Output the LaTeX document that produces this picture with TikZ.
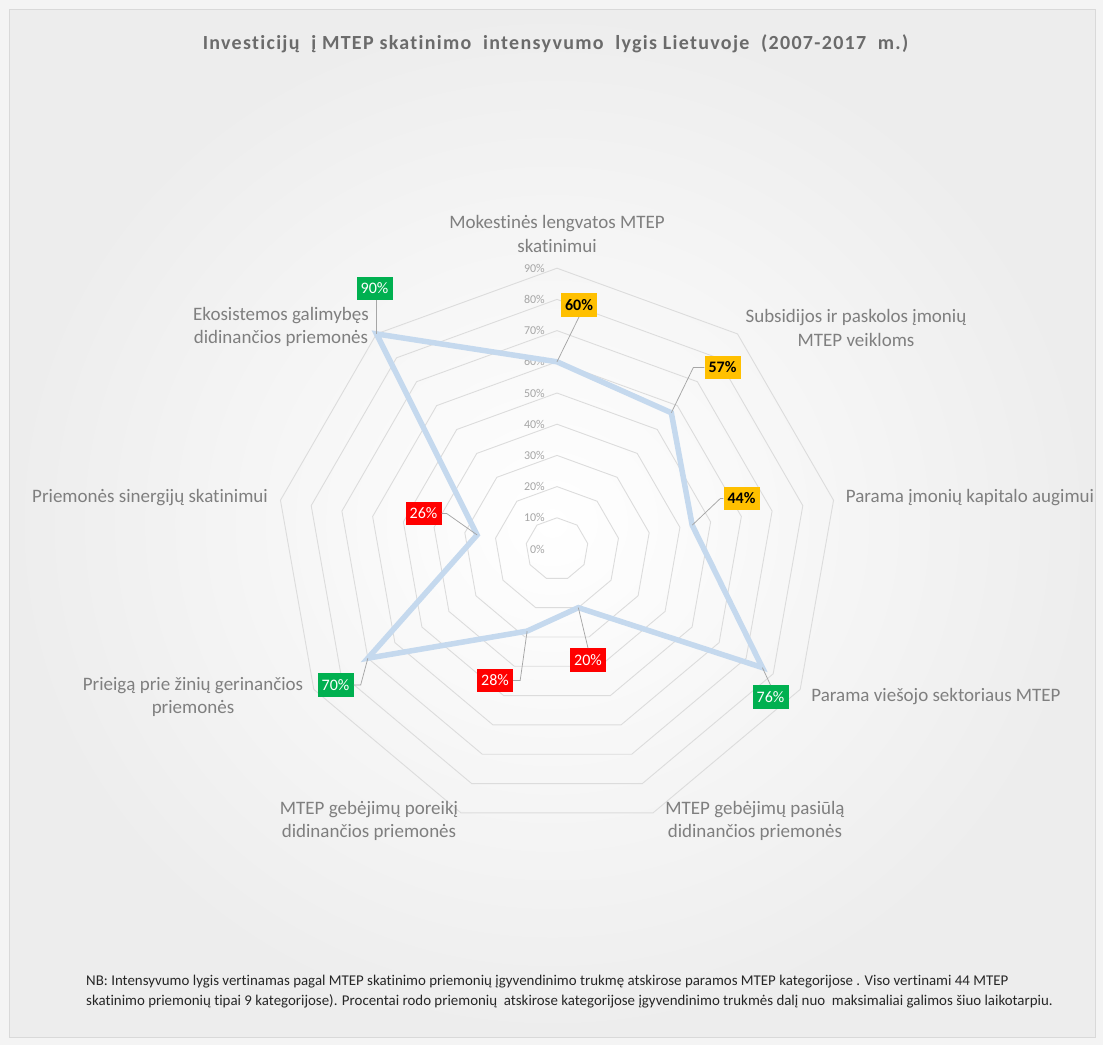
\documentclass[tikz,border=0pt]{standalone}
\usepackage{fontspec}
\setmainfont{Carlito}[Ligatures=NoCommon]
\usetikzlibrary{calc}
\definecolor{ringc}{HTML}{DCDCDC}
\definecolor{catc}{HTML}{7F7F7F}
\definecolor{titlec}{HTML}{6B6B6B}
\definecolor{axc}{HTML}{A6A6A6}
\definecolor{linec}{HTML}{C5D9EE}
\definecolor{yel}{HTML}{FFC000}
\definecolor{grn}{HTML}{00B050}
\definecolor{redc}{HTML}{FF0000}
\definecolor{leadc}{HTML}{A6A6A6}
\definecolor{bgedge}{HTML}{EDEDED}
\definecolor{pagec}{HTML}{F4F4F4}
\definecolor{framec}{HTML}{D9D9D9}
\definecolor{notec}{HTML}{262626}
\begin{document}
\begin{tikzpicture}[x=1bp,y=1bp,
 ring/.style={draw=ringc, line width=0.9bp},
 catlab/.style={font=\fontsize{19bp}{23.5bp}\selectfont, text=catc, align=center, inner sep=0pt},
 axlab/.style={font=\fontsize{12bp}{14bp}\selectfont, text=axc, anchor=east, inner sep=0pt},
 dlab/.style={font=\fontsize{16bp}{18bp}\selectfont, minimum height=23.5bp, minimum width=36bp, inner sep=0pt},
 ylab/.style={dlab, fill=yel, text=black, font=\fontsize{16bp}{18bp}\selectfont\bfseries},
 glab/.style={dlab, fill=grn, text=white},
 rlab/.style={dlab, fill=redc, text=white},
 leader/.style={draw=leadc, line width=0.75bp},
 dataline/.style={draw=linec, line width=5.5bp},
 titlelab/.style={font=\fontsize{20bp}{22bp}\selectfont\bfseries\addfontfeatures{LetterSpace=6.5}, text=titlec, inner sep=0pt},
 notelab/.style={font=\fontsize{14.9bp}{16bp}\selectfont, text=notec, inner sep=0pt, anchor=base west}
]
\useasboundingbox (0,0) rectangle (1103,-1045);
\fill[pagec] (0,0) rectangle (1103,-1045);
\shade[inner color=white, outer color=bgedge] (9,-9) rectangle (1095,-1037);
\draw[framec, line width=0.8bp] (9,-9) rectangle (1095,-1037);

% title
\node[titlelab] (title) at (555.5,-44) {Investicijų\ \ į MTEP skatinimo\ \ intensyvumo\ \ lygis Lietuvoje\ \ (2007-2017\ \ m.)};

% rings
\begin{scope}[shift={(557,-549)}]
\coordinate (C) at (0,0);
\foreach \k in {1,...,9}{
  \pgfmathsetmacro{\r}{\k*31.2}
  \draw[ring] (90:\r) \foreach \a in {130,170,210,250,290,330,370,410}{ -- (\a:\r)} -- cycle;
}
\foreach \k/\t in {0/0,1/10,2/20,3/30,4/40,5/50,6/60,7/70,8/80,9/90}{
  \node[axlab] (ax\k) at (-12,\k*31.2) {\t\%};
}
% data points
\coordinate (d0) at (90:60*3.12);
\coordinate (d1) at (50:57*3.12);
\coordinate (d2) at (10:44*3.12);
\coordinate (d3) at (-30:76*3.12);
\coordinate (d4) at (-70:20*3.12);
\coordinate (d5) at (-110:28*3.12);
\coordinate (d6) at (-150:70*3.12);
\coordinate (d7) at (170:26*3.12);
\coordinate (d8) at (130:90*3.12);
\end{scope}

\draw[dataline] (d0) -- (d1) -- (d2) -- (d3) -- (d4) -- (d5) -- (d6) -- (d7) -- (d8) -- cycle;

% data labels
\node[ylab] (l60) at (579,-305) {60\%};
\node[ylab] (l57) at (722.5,-367.5) {57\%};
\node[ylab] (l44) at (741.5,-498.5) {44\%};
\node[glab] (l76) at (770.5,-697) {76\%};
\node[rlab] (l20) at (588,-660) {20\%};
\node[rlab] (l28) at (495,-680.5) {28\%};
\node[glab] (l70) at (335.5,-685) {70\%};
\node[rlab] (l26) at (423.5,-513.5) {26\%};
\node[glab] (l90) at (374.5,-288.5) {90\%};

% leaders
\draw[leader] (d0) -- (l60.south);
\draw[leader] (d1) -- ([xshift=-11]l57.west) -- (l57.west);
\draw[leader] (d2) -- ([xshift=-3]l44.west) -- (l44.west);
\draw[leader] (d3) -- (l76.north);
\draw[leader] (d4) -- (l20.north);
\draw[leader] (d5) -- ([xshift=7]l28.east) -- (l28.east);
\draw[leader] (d6) -- ([xshift=7]l70.east) -- (l70.east);
\draw[leader] (d7) -- ([xshift=5]l26.east) -- (l26.east);
\draw[leader] (d8) -- (l90.south -| d8);

% category labels
\node[catlab] (c0) at (557,-234) {Mokestinės lengvatos MTEP\\skatinimui};
\node[catlab] (c1) at (856,-328) {Subsidijos ir paskolos įmonių\\MTEP veikloms};
\node[catlab] (c2) at (970,-498) {Parama įmonių kapitalo augimui};
\node[catlab] (c3) at (936,-697) {Parama viešojo sektoriaus MTEP};
\node[catlab] (c4) at (755,-821) {MTEP gebėjimų pasiūlą\\didinančios priemonės};
\node[catlab] (c5) at (369,-821) {MTEP gebėjimų poreikį\\didinančios priemonės};
\node[catlab] (c6) at (193,-697) {Prieigą prie žinių gerinančios\\priemonės};
\node[catlab] (c7) at (150,-498) {Priemonės sinergijų skatinimui};
\node[catlab] (c8) at (281,-327) {Ekosistemos galimybęs\\didinančios priemonės};

% note
\node[notelab] (n1) at (86,-985) {NB: Intensyvumo lygis vertinamas pagal MTEP skatinimo priemonių įgyvendinimo trukmę atskirose paramos MTEP kategorijose . Viso vertinami 44 MTEP};
\node[notelab] (n2) at (86,-1005) {skatinimo priemonių tipai 9 kategorijose). Procentai rodo priemonių\ \ atskirose kategorijose įgyvendinimo trukmės dalį nuo\ \ maksimaliai galimos šiuo laikotarpiu.};
\end{tikzpicture}
\end{document}
